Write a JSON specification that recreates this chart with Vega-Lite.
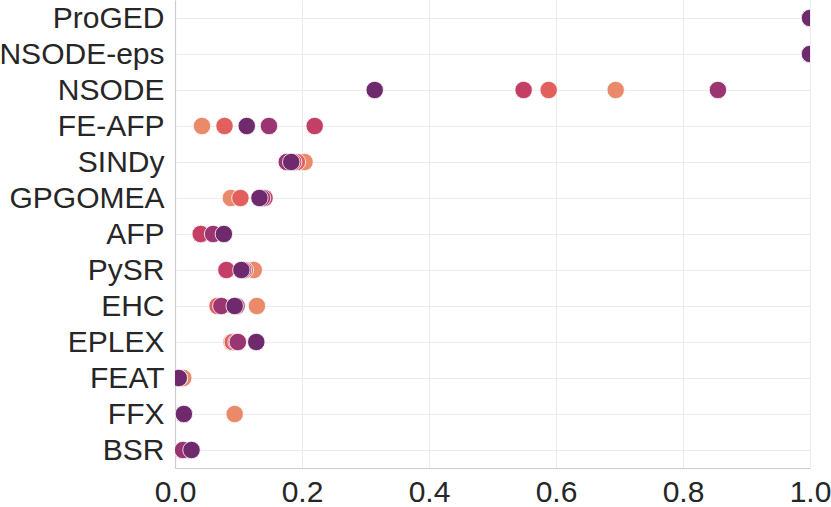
{
  "$schema": "https://vega.github.io/schema/vega-lite/v6.json",
  "width": 635,
  "height": 468,
  "autosize": {"type": "none"},
  "padding": {"left": 175, "top": 0, "right": 21, "bottom": 39},
  "background": "white",
  "config": {
    "view": {"stroke": null},
    "font": "Liberation Sans"
  },
  "data": {
    "values": [
      {"method": "ProGED", "level": "L1", "score": 1.0},
      {"method": "ProGED", "level": "L2", "score": 1.0},
      {"method": "ProGED", "level": "L3", "score": 1.0},
      {"method": "ProGED", "level": "L4", "score": 1.0},
      {"method": "ProGED", "level": "L5", "score": 1.0},
      {"method": "NSODE-eps", "level": "L1", "score": 1.0},
      {"method": "NSODE-eps", "level": "L2", "score": 1.0},
      {"method": "NSODE-eps", "level": "L3", "score": 1.0},
      {"method": "NSODE-eps", "level": "L4", "score": 1.0},
      {"method": "NSODE-eps", "level": "L5", "score": 1.0},
      {"method": "NSODE", "level": "L1", "score": 0.694},
      {"method": "NSODE", "level": "L2", "score": 0.5885},
      {"method": "NSODE", "level": "L3", "score": 0.549},
      {"method": "NSODE", "level": "L4", "score": 0.855},
      {"method": "NSODE", "level": "L5", "score": 0.3145},
      {"method": "FE-AFP", "level": "L1", "score": 0.0425},
      {"method": "FE-AFP", "level": "L2", "score": 0.078},
      {"method": "FE-AFP", "level": "L3", "score": 0.220},
      {"method": "FE-AFP", "level": "L4", "score": 0.148},
      {"method": "FE-AFP", "level": "L5", "score": 0.113},
      {"method": "SINDy", "level": "L1", "score": 0.204},
      {"method": "SINDy", "level": "L2", "score": 0.192},
      {"method": "SINDy", "level": "L3", "score": 0.186},
      {"method": "SINDy", "level": "L4", "score": 0.176},
      {"method": "SINDy", "level": "L5", "score": 0.183},
      {"method": "GPGOMEA", "level": "L1", "score": 0.088},
      {"method": "GPGOMEA", "level": "L2", "score": 0.103},
      {"method": "GPGOMEA", "level": "L3", "score": 0.141},
      {"method": "GPGOMEA", "level": "L4", "score": 0.137},
      {"method": "GPGOMEA", "level": "L5", "score": 0.133},
      {"method": "AFP", "level": "L1", "score": 0.0405},
      {"method": "AFP", "level": "L2", "score": 0.0405},
      {"method": "AFP", "level": "L3", "score": 0.0405},
      {"method": "AFP", "level": "L4", "score": 0.060},
      {"method": "AFP", "level": "L5", "score": 0.077},
      {"method": "PySR", "level": "L1", "score": 0.124},
      {"method": "PySR", "level": "L2", "score": 0.110},
      {"method": "PySR", "level": "L3", "score": 0.081},
      {"method": "PySR", "level": "L4", "score": 0.107},
      {"method": "PySR", "level": "L5", "score": 0.1045},
      {"method": "EHC", "level": "L1", "score": 0.129},
      {"method": "EHC", "level": "L2", "score": 0.067},
      {"method": "EHC", "level": "L3", "score": 0.097},
      {"method": "EHC", "level": "L4", "score": 0.073},
      {"method": "EHC", "level": "L5", "score": 0.094},
      {"method": "EPLEX", "level": "L1", "score": 0.089},
      {"method": "EPLEX", "level": "L2", "score": 0.091},
      {"method": "EPLEX", "level": "L3", "score": 0.097},
      {"method": "EPLEX", "level": "L4", "score": 0.099},
      {"method": "EPLEX", "level": "L5", "score": 0.128},
      {"method": "FEAT", "level": "L1", "score": 0.013},
      {"method": "FEAT", "level": "L2", "score": 0.006},
      {"method": "FEAT", "level": "L3", "score": 0.006},
      {"method": "FEAT", "level": "L4", "score": 0.006},
      {"method": "FEAT", "level": "L5", "score": 0.006},
      {"method": "FFX", "level": "L1", "score": 0.094},
      {"method": "FFX", "level": "L2", "score": 0.014},
      {"method": "FFX", "level": "L3", "score": 0.014},
      {"method": "FFX", "level": "L4", "score": 0.014},
      {"method": "FFX", "level": "L5", "score": 0.014},
      {"method": "BSR", "level": "L1", "score": 0.0126},
      {"method": "BSR", "level": "L2", "score": 0.0126},
      {"method": "BSR", "level": "L3", "score": 0.0126},
      {"method": "BSR", "level": "L4", "score": 0.0126},
      {"method": "BSR", "level": "L5", "score": 0.026}
    ]
  },
  "mark": {"type": "point", "filled": true, "size": 305, "opacity": 1, "stroke": "white", "strokeWidth": 0.8, "clip": true},
  "encoding": {
    "x": {
      "field": "score",
      "type": "quantitative",
      "scale": {"domain": [0, 1], "nice": false, "zero": false},
      "axis": {
        "title": null,
        "values": [0, 0.2, 0.4, 0.6, 0.8, 1.0],
        "format": ".1f",
        "ticks": false,
        "labelFontSize": 30,
        "labelColor": "#262626",
        "labelPadding": 9,
        "labelFlush": false,
        "labelOverlap": false,
        "labelBound": false,
        "grid": true,
        "gridColor": "#ebebeb",
        "gridWidth": 1,
        "domainColor": "#cccccc",
        "domainWidth": 1.2
      }
    },
    "y": {
      "field": "method",
      "type": "nominal",
      "sort": ["ProGED", "NSODE-eps", "NSODE", "FE-AFP", "SINDy", "GPGOMEA", "AFP", "PySR", "EHC", "EPLEX", "FEAT", "FFX", "BSR"],
      "scale": {"type": "point", "padding": 0.5},
      "axis": {
        "title": null,
        "ticks": false,
        "labelFontSize": 30,
        "labelColor": "#262626",
        "labelPadding": 11,
        "labelBound": false,
        "grid": true,
        "gridColor": "#ebebeb",
        "gridWidth": 1,
        "domainColor": "#cccccc",
        "domainWidth": 1.2
      }
    },
    "color": {
      "field": "level",
      "type": "nominal",
      "scale": {"domain": ["L1", "L2", "L3", "L4", "L5"], "range": ["#ea8a6a", "#e1605e", "#c43f66", "#9b3571", "#6e2a6c"]},
      "legend": null
    },
    "order": {"field": "level", "sort": "ascending"}
  }
}
